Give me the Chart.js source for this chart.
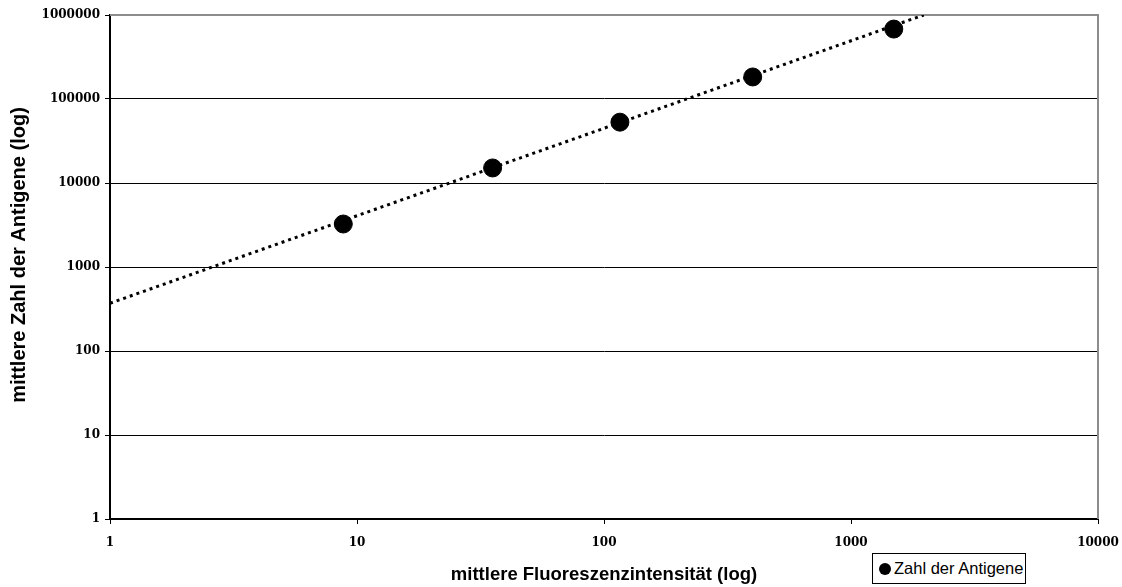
<!DOCTYPE html>
<html>
<head>
<meta charset="utf-8">
<script src="https://cdn.jsdelivr.net/npm/chart.js@4"></script>
<style>
  html, body { margin: 0; padding: 0; background: #fff; }
  #wrap { position: relative; width: 1122px; height: 587px; }
  #legend { position: absolute; left: 872px; top: 553px; width: 154px; height: 31px;
    border: 1px solid #000; box-sizing: border-box; background: #fff;
    font-family: "Liberation Sans", Arial, sans-serif; font-size: 16.5px; color: #000;
    display: flex; align-items: center; padding-left: 6px; white-space: nowrap; }
  #legend .dot { display: inline-block; width: 12px; height: 12px; border-radius: 50%; background: #000; margin-right: 3px; }
</style>
</head>
<body>
<div id="wrap">
  <canvas id="c"></canvas>
  <div id="legend"><span class="dot"></span><span>Zahl der Antigene</span></div>
</div>
<script>
// Data
const fluorescence = [8.8, 35.4, 116, 400, 1490];          // mittlere Fluoreszenzintensität
const antigenCount = [3250, 15100, 53000, 183000, 680000];  // mittlere Zahl der Antigene
// Dotted trendline endpoints (as drawn)
const trendX = [1, 1970];
const trendY = [370, 1000000];
// Tick labels
const xTicks = [1, 10, 100, 1000, 10000];
const yTicks = [1, 10, 100, 1000, 10000, 100000, 1000000];

const seriesName = 'Zahl der Antigene';
const xTitle = 'mittlere Fluoreszenzintensität (log)';
const yTitle = 'mittlere Zahl der Antigene (log)';

const framePlugin = {
  id: 'frame',
  beforeDatasetsDraw(chart) {
    const {ctx, chartArea: a} = chart;
    ctx.save();
    ctx.strokeStyle = '#8c8c8c';
    ctx.lineWidth = 2;
    ctx.beginPath();
    ctx.moveTo(a.left, a.top);
    ctx.lineTo(a.right, a.top);
    ctx.lineTo(a.right, a.bottom);
    ctx.stroke();
    ctx.restore();
  },
  afterDraw(chart) {
    const {ctx} = chart;
    ctx.save();
    ctx.translate(19, 255);
    ctx.rotate(-Math.PI / 2);
    ctx.font = 'bold 20px "Liberation Sans", Arial, sans-serif';
    ctx.fillStyle = '#000';
    ctx.textAlign = 'center';
    ctx.textBaseline = 'middle';
    ctx.fillText(yTitle, 0, 0);
    ctx.restore();
  }
};

const tickFont = { family: '"DejaVu Serif", serif', size: 12, weight: 'bold' };

new Chart(document.getElementById('c'), {
  type: 'scatter',
  data: {
    datasets: [
      {
        label: seriesName,
        data: fluorescence.map((x, i) => ({ x, y: antigenCount[i] })),
        backgroundColor: '#000',
        borderColor: '#000',
        pointRadius: 9,
        pointHoverRadius: 9,
        order: 1
      },
      {
        label: 'Trend',
        data: trendX.map((x, i) => ({ x, y: trendY[i] })),
        showLine: true,
        borderColor: '#000',
        borderWidth: 3,
        borderDash: [3, 4],
        pointRadius: 0,
        fill: false,
        order: 2
      }
    ]
  },
  plugins: [framePlugin],
  options: {
    responsive: true,
    maintainAspectRatio: false,
    animation: false,
    layout: { padding: { top: 15, right: 24, left: 0, bottom: 0 } },
    plugins: { legend: { display: false }, tooltip: { enabled: false } },
    scales: {
      x: {
        type: 'logarithmic',
        min: 1, max: 10000,
        afterBuildTicks(s) { s.ticks = xTicks.map(v => ({ value: v })); },
        afterFit(s) { s.height = 68; s.paddingLeft = 0; s.paddingRight = 0; },
        ticks: { callback: v => String(v), color: '#000', font: tickFont, padding: 12, maxRotation: 0, autoSkip: false },
        grid: { drawOnChartArea: false, drawTicks: true, tickLength: 5, color: '#000', lineWidth: 1 },
        border: { display: true, color: '#000', width: 2 },
        title: { display: true, text: xTitle, color: '#000',
          font: { family: '"Liberation Sans", Arial, sans-serif', size: 18.5, weight: 'bold' },
          padding: { top: 0, bottom: 1 } }
      },
      y: {
        type: 'logarithmic',
        min: 1, max: 1000000,
        afterBuildTicks(s) { s.ticks = yTicks.map(v => ({ value: v })); },
        afterFit(s) { s.width = 110; s.paddingTop = 0; s.paddingBottom = 0; },
        ticks: { callback: v => String(v), color: '#000', font: tickFont, padding: 5, autoSkip: false },
        grid: { drawOnChartArea: true, drawTicks: true, tickLength: 5, color: '#000', lineWidth: 1 },
        border: { display: true, color: '#000', width: 2 },
        title: { display: false }
      }
    }
  }
});
</script>
</body>
</html>
